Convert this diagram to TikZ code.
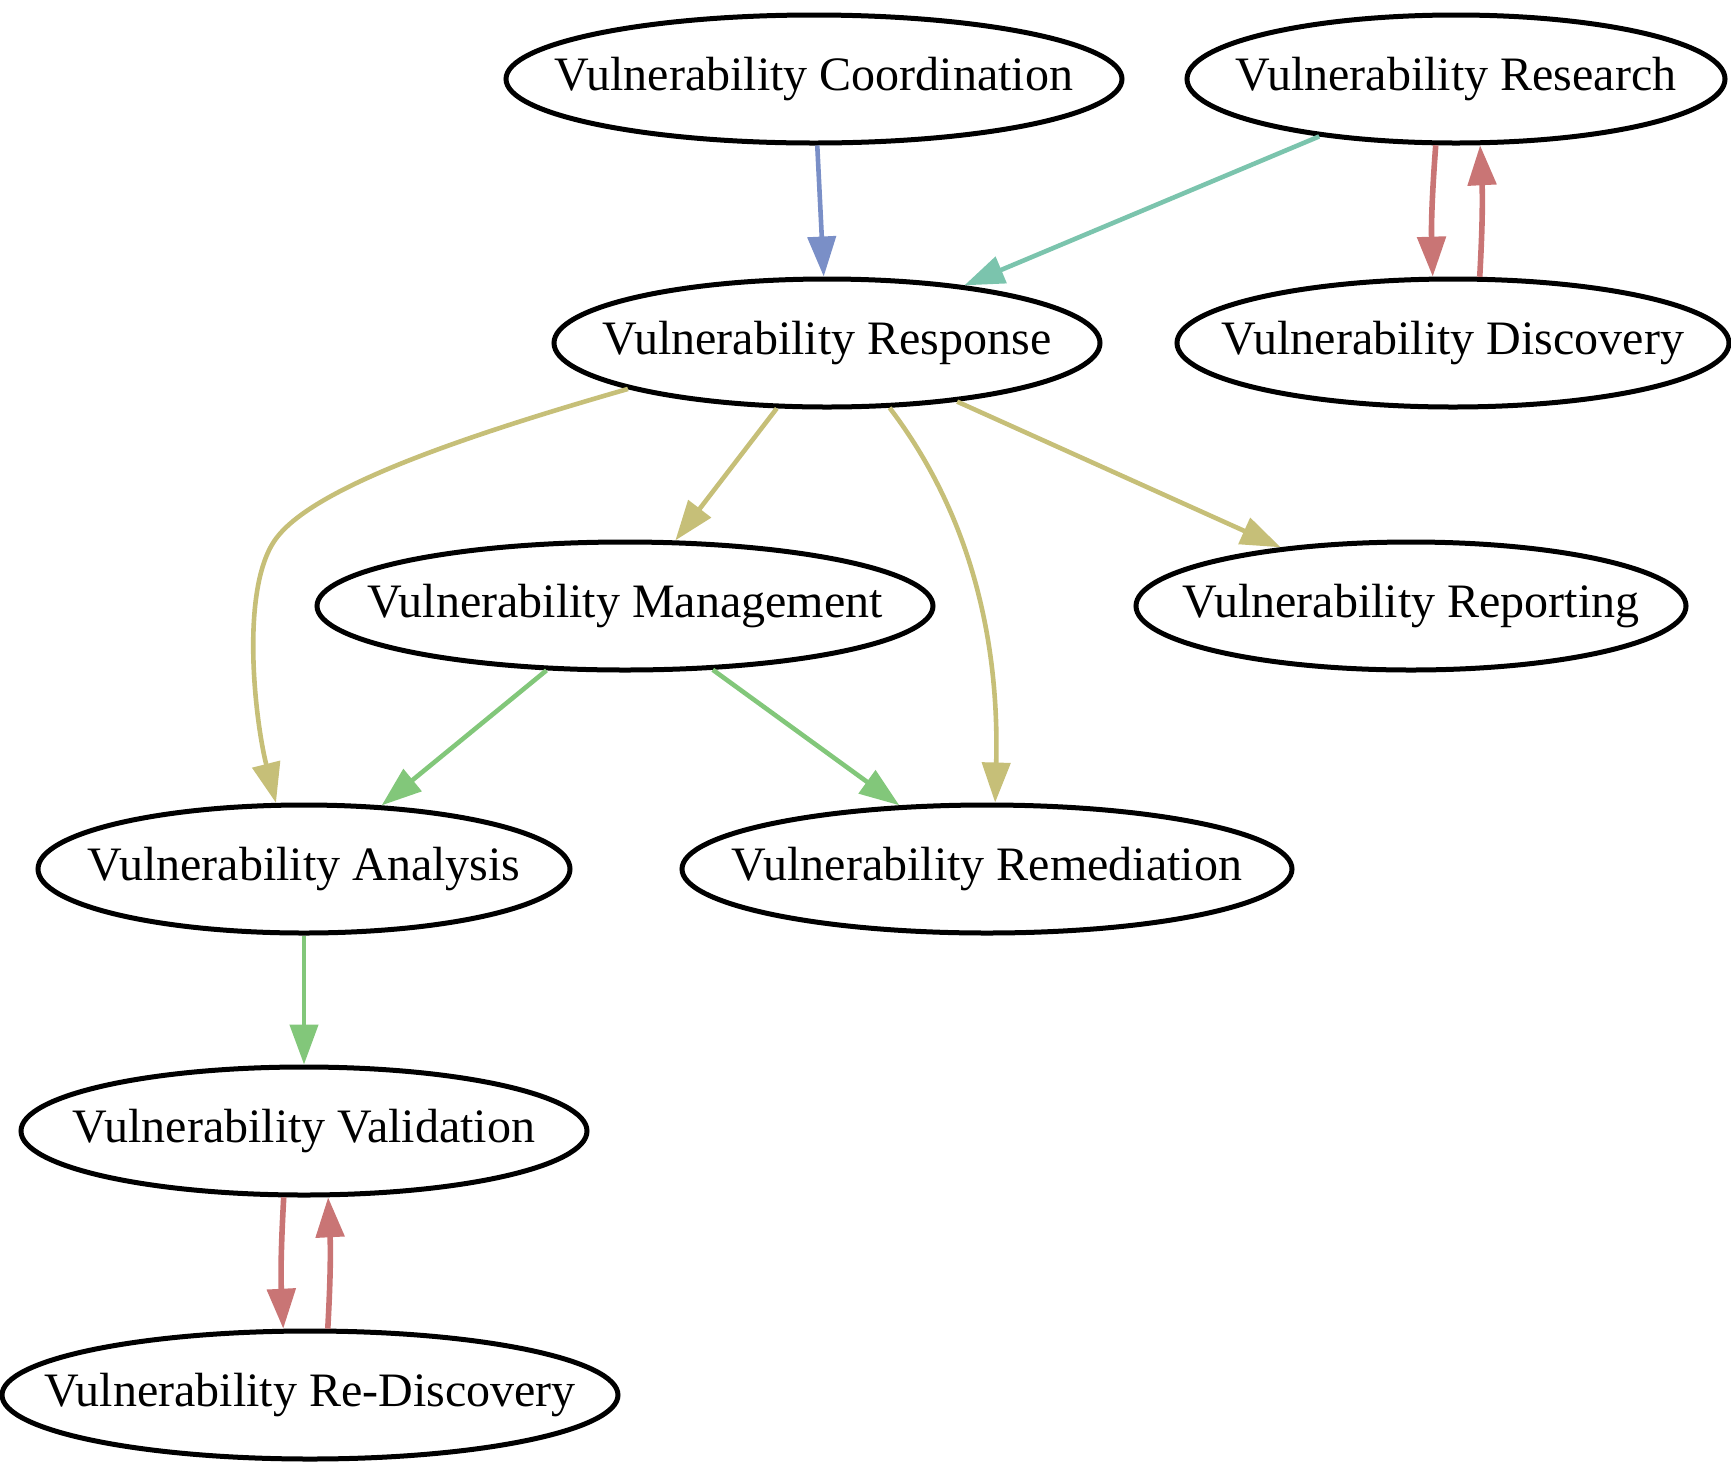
\documentclass[tikz,border=0pt]{standalone}
\usepackage{fontspec}
\setmainfont{Liberation Serif}
\usetikzlibrary{arrows.meta,shapes.geometric}

% edge colours
\definecolor{edgeblue}{RGB}{122,143,199}
\definecolor{edgeteal}{RGB}{123,196,173}
\definecolor{edgered}{RGB}{201,117,117}
\definecolor{edgeolive}{RGB}{198,191,120}
\definecolor{edgegreen}{RGB}{130,199,122}

% label text takes no width, so the ellipse keeps its given size
\newcommand{\vtext}[1]{\makebox[0pt]{#1}}

\begin{document}
\begin{tikzpicture}[x=0.5pt,y=-0.5pt,
  state/.style={ellipse,draw=black,line width=2.5pt,fill=white,inner sep=0pt,
    minimum height=64pt,font=\fontsize{24}{28}\selectfont},
  link/.style={line width=2.3pt,-{Triangle[length=20pt,width=14pt]}},
  pairlink/.style={link,line width=2.8pt}]

\useasboundingbox (0,0) rectangle (1731,1463);

% states
\node[state,minimum width=308pt] (coord)  at (814,79)   {\vtext{Vulnerability Coordination}};
\node[state,minimum width=269pt] (resrch) at (1456,79)  {\vtext{Vulnerability Research}};
\node[state,minimum width=273pt] (resp)   at (827,343)  {\vtext{Vulnerability Response}};
\node[state,minimum width=276pt] (disc)   at (1453,343) {\vtext{Vulnerability Discovery}};
\node[state,minimum width=308pt] (mgmt)   at (625,606)  {\vtext{Vulnerability Management}};
\node[state,minimum width=275pt] (report) at (1411,606) {\vtext{Vulnerability Reporting}};
\node[state,minimum width=266pt] (anal)   at (304,869)  {\vtext{Vulnerability Analysis}};
\node[state,minimum width=305pt] (remed)  at (987,869)  {\vtext{Vulnerability Remediation}};
\node[state,minimum width=283pt] (valid)  at (304,1131) {\vtext{Vulnerability Validation}};
\node[state,minimum width=308pt] (redisc) at (310,1395) {\vtext{Vulnerability Re-Discovery}};

% connectors
\draw[link,edgeblue] (coord) -- (resp);
\draw[link,edgeteal] (resrch) -- (resp);
\draw[pairlink,edgered] (resrch.-107) to[bend right=3] (disc.107);
\draw[pairlink,edgered] (disc.68) to[bend right=3] (resrch.-70);

\draw[link,edgeolive] (resp.193) .. controls (450,440) and (310,490) .. (275,540)
  .. controls (240,590) and (255,720) .. (anal.113);
\draw[link,edgeolive] (resp) -- (mgmt);
\draw[link,edgeolive] (resp.-46) .. controls (960,500) and (1000,620) .. (remed.83);
\draw[link,edgeolive] (resp) -- (report);

\draw[link,edgegreen] (mgmt) -- (anal);
\draw[link,edgegreen] (mgmt) -- (remed);
\draw[link,edgegreen] (anal) -- (valid);

\draw[pairlink,edgered] (valid.-107) to[bend right=3] (redisc.112);
\draw[pairlink,edgered] (redisc.75) to[bend right=3] (valid.-70);
\end{tikzpicture}
\end{document}
